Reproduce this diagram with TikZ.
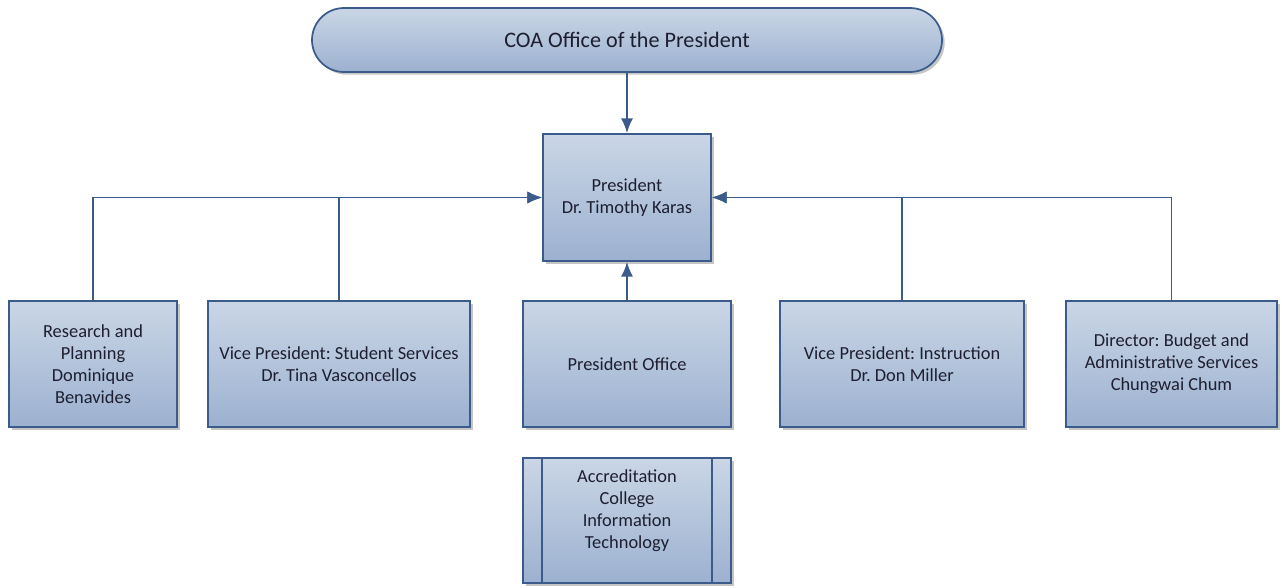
\documentclass[tikz,border=0pt]{standalone}
\usepackage{fontspec}
\setmainfont{Carlito}
\frenchspacing
\usetikzlibrary{arrows.meta,shadows}
\definecolor{boxtop}{HTML}{CAD6E6}
\definecolor{boxbot}{HTML}{9CB1D0}
\definecolor{boxline}{HTML}{3B5B8A}
\definecolor{boxtext}{HTML}{1E1E30}
\tikzset{
  orgbox/.style={draw=boxline, line width=1.3pt, top color=boxtop, bottom color=boxbot,
    align=center, inner sep=2pt, text=boxtext, font=\fontsize{13.8}{16.5}\selectfont,
    drop shadow={shadow xshift=2pt, shadow yshift=-2pt, fill=black!45, opacity=.5}},
  link/.style={draw=boxline, line width=1.4pt}
}
\begin{document}
\begin{tikzpicture}[x=0.75pt, y=-0.75pt, >={Latex[length=11pt,width=9pt]}]
	\useasboundingbox (0,0) rectangle (1282,587);
	\node[orgbox, rounded corners=24pt, minimum width=472.5pt, minimum height=48pt,
	  font=\fontsize{16.6}{20}\selectfont] (title) at (627,40) {COA Office of the President};
	\node[orgbox, minimum width=126pt, minimum height=95.25pt] (pres) at (627,197.5) {President\\Dr. Timothy Karas};
	\node[orgbox, minimum width=126pt, minimum height=94.5pt] (res) at (93,364) {Research and\\Planning\\Dominique\\Benavides};
	\node[orgbox, minimum width=196.5pt, minimum height=94.5pt] (vpss) at (339,364) {Vice President: Student Services\\Dr. Tina Vasconcellos};
	\node[orgbox, minimum width=156pt, minimum height=94.5pt] (presoff) at (627,364) {President Office};
	\node[orgbox, minimum width=183pt, minimum height=94.5pt] (vpin) at (902,364) {Vice President: Instruction\\Dr. Don Miller};
	\node[orgbox, minimum width=158.25pt, minimum height=94.5pt] (dir) at (1171.5,364) {Director: Budget and\\Administrative Services\\Chungwai Chum};
	\node[orgbox, minimum width=156pt, minimum height=93.75pt] (accr) at (627,520.5) {Accreditation\\College\\Information\\Technology\\[0pt]};
	\draw[link] ([xshift=15pt]accr.north west) -- ([xshift=15pt]accr.south west);%Streifen links
	\draw[link] ([xshift=-15pt]accr.north east) -- ([xshift=-15pt]accr.south east);%Streifen rechts

	\draw[link, ->] (title.south) -- (pres.north);
	\draw[link, ->] (presoff.north) -- (pres.south);
	\draw[link, ->] (res.north) |- (pres.west);
	\draw[link, ->] (vpss.north) |- (pres.west);
	\draw[link, ->] (dir.north) |- (pres.east);
	\draw[link, ->] (vpin.north) |- (pres.east);

	\end{tikzpicture}
\end{document}
